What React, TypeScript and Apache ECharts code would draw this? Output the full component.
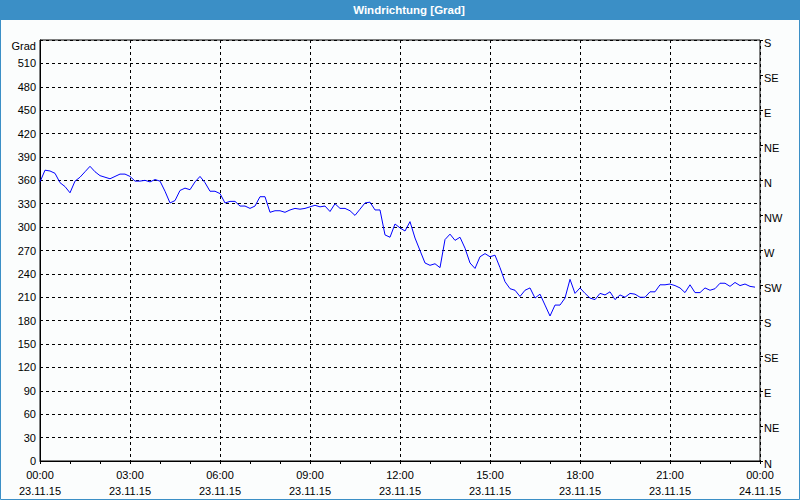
import React, { useEffect, useRef } from 'react';
import * as echarts from 'echarts';

const stepMinutes = 10;

const windDirection = [
  358, 373, 372, 369, 357, 352, 344, 359, 364, 371,
  378, 371, 366, 364, 362, 365, 368, 368, 365, 359,
  359, 360, 358, 361, 359, 346, 331, 334, 347, 350,
  348, 358, 365, 357, 346, 346, 343, 331, 333, 333,
  327, 327, 324, 327, 339, 339, 319, 321, 321, 319,
  322, 324, 323, 324, 326, 328, 326, 327, 320, 330,
  324, 324, 321, 315, 323, 331, 332, 322, 322, 290,
  287, 304, 299, 295, 307, 286, 270, 254, 251, 253,
  248, 284, 291, 283, 287, 273, 254, 247, 262, 266,
  262, 264, 248, 230, 221, 219, 211, 219, 222, 209,
  214, 200, 186, 200, 200, 209, 233, 215, 222, 215,
  209, 207, 215, 213, 217, 207, 213, 210, 215, 214,
  210, 210, 217, 217, 226, 226, 227, 225, 222, 216,
  226, 216, 216, 222, 219, 221, 228, 228, 224, 229,
  225, 227, 224, 223,
];

const timeTickLabels = ['00:00', '03:00', '06:00', '09:00', '12:00', '15:00', '18:00', '21:00', '00:00'];
const dateTickLabels = ['23.11.15', '23.11.15', '23.11.15', '23.11.15', '23.11.15', '23.11.15', '23.11.15', '23.11.15', '24.11.15'];
const compassLabels = ['N', 'NE', 'E', 'SE', 'S', 'SW', 'W', 'NW', 'N', 'NE', 'E', 'SE', 'S'];

export default function App() {
  const ref = useRef<HTMLDivElement>(null);
  useEffect(() => {
    const chart = echarts.init(ref.current!, null, { renderer: 'svg' });
    const font = 'Liberation Sans';
    const data = windDirection.map((v, i) => [i * stepMinutes, v]);
    chart.setOption({
      animation: false,
      backgroundColor: '#fbfdfd',
      textStyle: { fontFamily: font, fontSize: 11, color: '#000' },
      graphic: [
        { type: 'rect', silent: true, shape: { x: 0, y: 0, width: 800, height: 20 }, style: { fill: '#3b8fc6' } },
        { type: 'rect', silent: true, shape: { x: 0.5, y: 0.5, width: 799, height: 499 }, style: { fill: 'none', stroke: '#3b8fc6', lineWidth: 1 } },
        {
          type: 'text', silent: true, x: 409, y: 10,
          style: { text: 'Windrichtung [Grad]', fill: '#ffffff', font: 'bold 11.5px "Liberation Sans"', textAlign: 'center', textVerticalAlign: 'middle' },
        },
      ],
      grid: { left: 40, right: 40, top: 40, bottom: 39, show: true, borderColor: '#000', borderWidth: 1, backgroundColor: 'transparent' },
      xAxis: {
        type: 'value', min: 0, max: 1440, interval: 180,
        axisLine: { show: true, lineStyle: { color: '#000', width: 1 } },
        axisTick: { show: true, length: 3, lineStyle: { color: '#000' } },
        minorTick: { show: true, splitNumber: 3, length: 3, lineStyle: { color: '#000' } },
        splitLine: { show: true, lineStyle: { color: '#000', type: [3, 3], width: 1 } },
        axisLabel: {
          formatter: (v: number) => {
            const i = Math.round(v / 180);
            return timeTickLabels[i] + '\n' + dateTickLabels[i];
          },
          color: '#000', fontSize: 11, lineHeight: 16, margin: 6, fontFamily: font,
          showMinLabel: true, showMaxLabel: true,
        },
      },
      yAxis: [
        {
          type: 'value', min: 0, max: 540, interval: 30,
          axisLine: { show: true, lineStyle: { color: '#000' } },
          axisTick: { show: false },
          splitLine: { show: true, lineStyle: { color: '#000', type: [3, 3], width: 1 } },
          axisLabel: {
            formatter: (v: number) => (v === 540 ? '{g|Grad}' : String(v)),
            color: '#000', fontSize: 11, margin: 4, fontFamily: font,
            rich: { g: { padding: [12, 0, 0, 0], fontSize: 11, color: '#000', fontFamily: font } },
          },
        },
        {
          type: 'value', position: 'right', min: 0, max: 540, interval: 45,
          axisLine: { show: false },
          axisTick: { show: true, length: 3, lineStyle: { color: '#000' } },
          splitLine: { show: false },
          axisLabel: {
            formatter: (v: number) => '{d|' + compassLabels[Math.round(v / 45)] + '}',
            color: '#000', fontSize: 11, margin: 4, fontFamily: font,
            rich: { d: { padding: [5, 0, 0, 0], fontSize: 11, color: '#000', fontFamily: font } },
          },
        },
      ],
      series: [
        {
          type: 'line', data, yAxisIndex: 0, symbol: 'none', silent: true,
          lineStyle: { color: '#0000ff', width: 1 },
        },
      ],
    });
    return () => chart.dispose();
  }, []);
  return <div ref={ref} style={{ position: 'fixed', left: 0, top: 0, width: 800, height: 500 }} />;
}
